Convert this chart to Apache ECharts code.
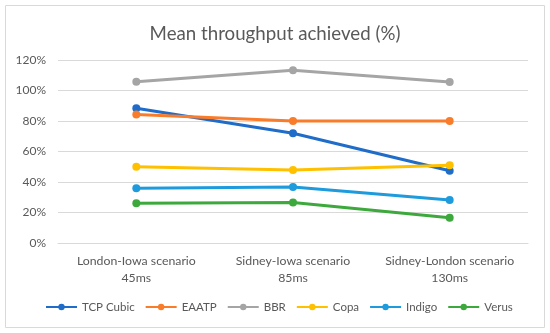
<!DOCTYPE html>
<html><head><meta charset="utf-8">
<script src="https://cdn.jsdelivr.net/npm/echarts@6/dist/echarts.min.js"></script>
<style>html,body{margin:0;padding:0;background:#fff}#c{width:550px;height:333px}</style>
</head><body><div id="c"></div>
<script>
const categories = ['London-Iowa scenario\n45ms', 'Sidney-Iowa scenario\n85ms', 'Sidney-London scenario\n130ms'];
const seriesNames = ['TCP Cubic', 'EAATP', 'BBR', 'Copa', 'Indigo', 'Verus'];
const tcpCubic = [88.3, 72, 47.4];
const eaatp = [84.2, 80, 80];
const bbr = [105.8, 113.2, 105.5];
const copa = [50, 47.8, 51];
const indigo = [35.9, 36.7, 28.2];
const verus = [26, 26.6, 16.6];
const yTicks = [0, 20, 40, 60, 80, 100, 120];
const colors = ['#1F6CC9', '#F97C2A', '#A5A5A5', '#FFC000', '#1E9BDD', '#3DA93D'];
const values = [tcpCubic, eaatp, bbr, copa, indigo, verus];
const font = 'Lato, "Open Sans", sans-serif';
const chart = echarts.init(document.getElementById('c'));
chart.setOption({
  animation: false,
  color: colors,
  graphic: [{type: 'rect', shape: {x: 5.5, y: 5.5, width: 539, height: 322}, style: {fill: 'none', stroke: '#D9D9D9', lineWidth: 1}, silent: true}],
  title: {text: 'Mean throughput achieved (%)', left: 'center', top: 19, textStyle: {fontFamily: font, fontSize: 18.7, fontWeight: 'normal', color: '#595959'}},
  legend: {bottom: 15, left: 40, itemWidth: 31, itemHeight: 8, itemGap: 10, textStyle: {fontFamily: font, fontSize: 11.5, color: '#595959'}, data: seriesNames},
  grid: {left: 58, right: 22, top: 60, bottom: 90, containLabel: false},
  xAxis: {type: 'category', data: categories, boundaryGap: true, axisLine: {show: true, lineStyle: {color: '#D9D9D9'}}, axisTick: {show: false},
    axisLabel: {fontFamily: font, fontSize: 12.3, color: '#595959', lineHeight: 17, margin: 10, interval: 0}},
  yAxis: {type: 'value', min: yTicks[0], max: yTicks[yTicks.length - 1], interval: 20, axisLine: {show: false}, axisTick: {show: false},
    splitLine: {lineStyle: {color: '#D9D9D9'}},
    axisLabel: {fontFamily: font, fontSize: 12, color: '#595959', margin: 12, formatter: v => v + '%'}},
  series: seriesNames.map((n, i) => ({name: n, type: 'line', data: values[i], symbol: 'circle', symbolSize: 8, lineStyle: {width: 3}, itemStyle: {color: colors[i]}}))
});
</script></body></html>
